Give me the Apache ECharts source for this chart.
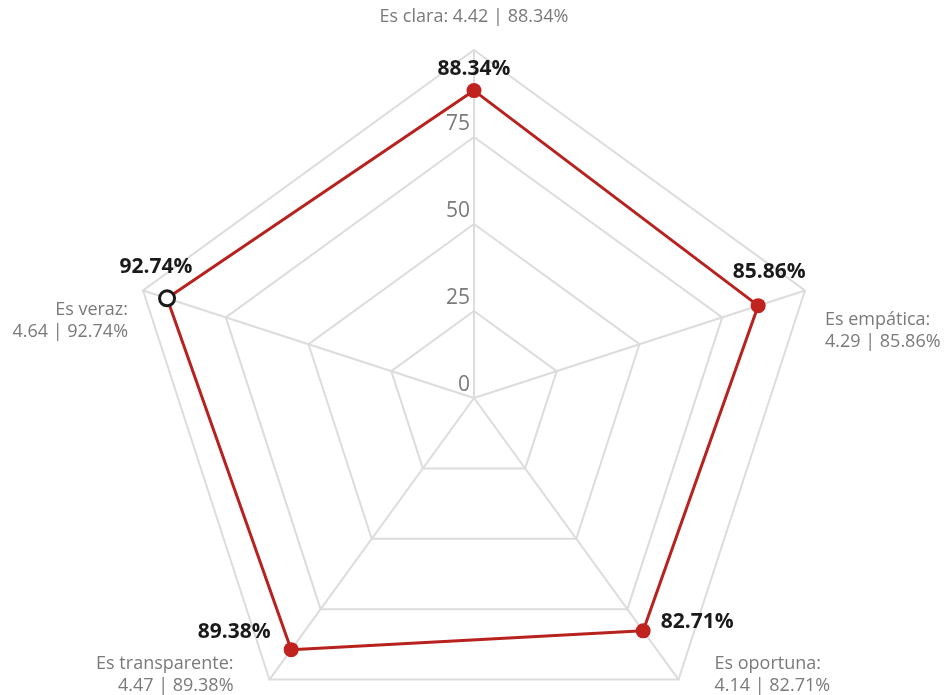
<!DOCTYPE html>
<html><head><meta charset="utf-8">
<script src="https://cdn.jsdelivr.net/npm/echarts@6/dist/echarts.min.js"></script>
<style>html,body{margin:0;padding:0;background:#fff}#c{width:949px;height:695px}</style>
</head><body><div id="c"></div>
<script>
// ---- data ----
const categories = ['Es clara', 'Es veraz', 'Es transparente', 'Es oportuna', 'Es empática'];
const scores = [4.42, 4.64, 4.47, 4.14, 4.29];
const percents = [88.34, 92.74, 89.38, 82.71, 85.86];
const axisMax = 100;
const axisSplits = 4;
const highlighted = 1; // "Es veraz" drawn with a hollow marker

// ---- styling ----
const FONT = 'Open Sans';
const RED = '#b8221e';
const GRAY = '#7a7a7a';
const nameStyle = [
  { gap: 22, padding: [0, 0, 0, 0] },
  { gap: 0, vAlign: 'top', padding: [8, 15, 0, 0] },
  { gap: 22, vAlign: 'bottom', padding: [0, 23, 0, 0] },
  { gap: 22, vAlign: 'bottom', padding: [0, 0, 0, 23] },
  { gap: 0, vAlign: 'top', padding: [18, 0, 0, 20] }
];
const pctLabel = [
  { position: 'top', offset: [0, 1] },
  { position: 'top', offset: [-11, -8] },
  { position: 'left', offset: [-8, -18] },
  { position: 'right', offset: [5, -9] },
  { position: 'top', offset: [11, -11] }
];

function dimOf(p) {
  return p.dimensionIndex != null ? p.dimensionIndex : percents.indexOf(p.value);
}

const indicators = categories.map((c, i) => {
  const ts = { padding: nameStyle[i].padding };
  if (nameStyle[i].vAlign) ts.verticalAlign = nameStyle[i].vAlign;
  return {
    name: i === 0
      ? c + ': ' + scores[i].toFixed(2) + ' | ' + percents[i].toFixed(2) + '%'
      : c + ':\n' + scores[i].toFixed(2) + ' | ' + percents[i].toFixed(2) + '%',
    min: 0,
    max: axisMax,
    nameGap: nameStyle[i].gap,
    nameTextStyle: ts,
    axisLabel: { show: i === 0 }
  };
});

const overlayItems = percents.map((_, k) => ({
  value: percents,
  symbolSize: 15,
  lineStyle: { opacity: 0, width: 0 },
  itemStyle: { color: 'rgba(0,0,0,0)' },
  label: {
    show: true,
    position: pctLabel[k].position,
    offset: pctLabel[k].offset,
    distance: 5,
    color: '#1a1a1a',
    fontFamily: FONT,
    fontWeight: 'bold',
    fontSize: 21,
    formatter: p => dimOf(p) === k ? percents[k].toFixed(2) + '%' : ''
  }
}));

const chart = echarts.init(document.getElementById('c'), null, { renderer: 'canvas' });
chart.setOption({
  animation: false,
  backgroundColor: '#fff',
  radar: {
    center: [474, 398],
    radius: 348,
    startAngle: 90,
    shape: 'polygon',
    splitNumber: axisSplits,
    axisName: { color: GRAY, fontFamily: FONT, fontSize: 18, lineHeight: 22 },
    axisLine: { lineStyle: { color: '#dcdcdc', width: 2 } },
    splitLine: { lineStyle: { color: '#dcdcdc', width: 2 } },
    splitArea: { show: false },
    axisTick: { show: false },
    axisLabel: {
      show: false, color: GRAY, fontFamily: FONT, fontSize: 21, margin: 4,
      verticalAlign: 'bottom', padding: [0, 0, 2, 0],
      formatter: v => (v >= axisMax ? '' : String(v))
    },
    indicator: indicators
  },
  series: [{
    type: 'radar',
    silent: true,
    symbol: 'circle',
    symbolSize: 15,
    data: [
      { value: percents, lineStyle: { color: RED, width: 3 }, itemStyle: { color: '#c0221d' }, label: { show: false } },
      ...overlayItems,
      {
        value: percents,
        lineStyle: { opacity: 0, width: 0 },
        itemStyle: { color: 'rgba(0,0,0,0)' },
        label: {
          show: true,
          position: 'inside',
          formatter: p => dimOf(p) === highlighted ? '{m| }' : '',
          rich: { m: { width: 12, height: 12, backgroundColor: '#fff', borderColor: '#1a1a1a', borderWidth: 3, borderRadius: 9 } }
        }
      }
    ]
  }]
});
</script></body></html>
